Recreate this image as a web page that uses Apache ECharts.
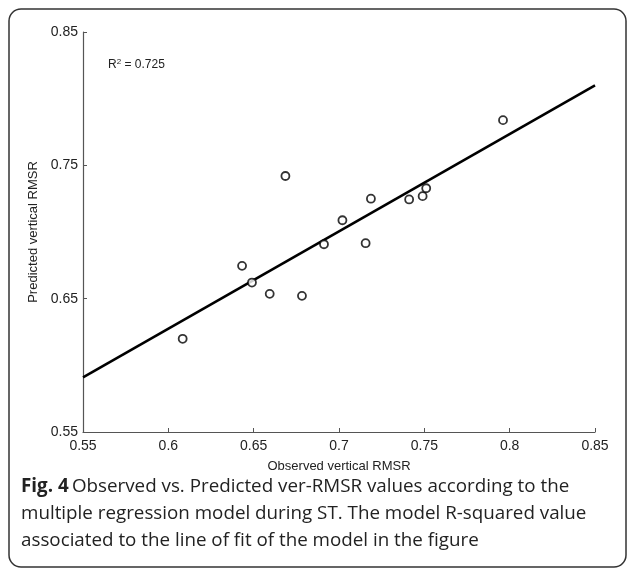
<!DOCTYPE html>
<html>
<head>
<meta charset="utf-8">
<script src="https://cdn.jsdelivr.net/npm/echarts@6/dist/echarts.min.js"></script>
<style>
  html, body { margin: 0; padding: 0; background: #fff; }
  #chart { width: 627px; height: 569px; }
</style>
</head>
<body>
<div id="chart"></div>
<script>
// observed vs predicted ver-RMSR
const observed = [0.6084, 0.6432, 0.6490, 0.6594, 0.6783, 0.6686, 0.6912,
  0.7020, 0.7156, 0.7187, 0.7411, 0.7490, 0.7511, 0.7961];
const predicted = [0.6199, 0.6746, 0.6621, 0.6536, 0.6521, 0.7420, 0.6908,
  0.7088, 0.6916, 0.7250, 0.7244, 0.7269, 0.7328, 0.7839];

// line of fit end points
const fitX = [0.55, 0.85];
const fitY = [0.591, 0.810];

const xTicks = [0.55, 0.6, 0.65, 0.7, 0.75, 0.8, 0.85];
const yTicks = [0.55, 0.65, 0.75, 0.85];

const rSquared = '0.725';
const captionLines = [
  'Observed vs. Predicted ver-RMSR values according to the',
  'multiple regression model during ST. The model R-squared value',
  'associated to the line of fit of the model in the figure'
];

const myChart = echarts.init(document.getElementById('chart'));

const axisFont = 'Liberation Sans, Arial, sans-serif';
const capFont = '"Open Sans", "Noto Sans", sans-serif';
const capSize = 18.8;

const option = {
  backgroundColor: '#fff',
  animation: false,
  grid: { left: 83, right: 32, top: 32, bottom: 137 },
  xAxis: {
    type: 'value',
    min: 0.55,
    max: 0.85,
    interval: 0.05,
    name: 'Observed vertical RMSR',
    nameLocation: 'middle',
    nameGap: 28,
    nameTextStyle: { color: '#222', fontSize: 13, fontFamily: axisFont },
    axisLine: { lineStyle: { color: '#555', width: 1.2 } },
    axisTick: { inside: true, length: 4, lineStyle: { color: '#555' } },
    axisLabel: {
      margin: 7, color: '#222', fontSize: 14, fontFamily: axisFont,
      showMinLabel: true, showMaxLabel: true,
      formatter: v => xTicks.find(t => Math.abs(t - v) < 1e-6) + ''
    },
    splitLine: { show: false }
  },
  yAxis: {
    type: 'value',
    min: 0.55,
    max: 0.85,
    interval: 0.1,
    name: 'Predicted vertical RMSR',
    nameLocation: 'middle',
    nameGap: 35,
    nameTextStyle: { color: '#222', fontSize: 13, fontFamily: axisFont },
    axisLine: { show: true, lineStyle: { color: '#555', width: 1.2 } },
    axisTick: { show: true, inside: true, length: 4, lineStyle: { color: '#555' } },
    axisLabel: {
      margin: 5, color: '#222', fontSize: 14, fontFamily: axisFont,
      formatter: v => yTicks.find(t => Math.abs(t - v) < 1e-6) + ''
    },
    splitLine: { show: false }
  },
  series: [
    {
      type: 'line',
      data: fitX.map((x, i) => [x, fitY[i]]),
      symbol: 'none',
      lineStyle: { color: '#000', width: 2.6 },
      z: 2
    },
    {
      type: 'scatter',
      data: observed.map((x, i) => [x, predicted[i]]),
      symbol: 'circle',
      symbolSize: 8,
      itemStyle: { color: '#fff', borderColor: '#000', borderWidth: 1.8 },
      z: 3
    }
  ],
  graphic: [
    {
      type: 'rect',
      shape: { x: 9, y: 9, width: 617, height: 558, r: 12 },
      style: { fill: 'none', stroke: '#333', lineWidth: 1.5 },
      silent: true
    },
    {
      type: 'text',
      left: 108,
      top: 58,
      style: {
        text: '{a|R}{s|2}{a| = ' + rSquared + '}',
        rich: {
          a: { fontSize: 12, fontFamily: axisFont, fill: '#222' },
          s: { fontSize: 8, fontFamily: axisFont, fill: '#222', verticalAlign: 'top', padding: [0, 0, 6, 0] }
        }
      }
    },
    {
      type: 'text',
      left: 21,
      top: 477,
      style: {
        text: '{b|Fig. 4} {n|' + captionLines[0] + '}',
        rich: {
          b: { fontSize: capSize, fontWeight: 'bold', fontFamily: capFont, fill: '#222' },
          n: { fontSize: capSize, fontFamily: capFont, fill: '#222' }
        }
      }
    },
    {
      type: 'text',
      left: 21,
      top: 504,
      style: { text: captionLines[1], fontSize: capSize, fontFamily: capFont, fill: '#222' }
    },
    {
      type: 'text',
      left: 21,
      top: 531,
      style: { text: captionLines[2], fontSize: capSize, fontFamily: capFont, fill: '#222' }
    }
  ]
};

myChart.setOption(option);

window.addEventListener('resize', function() {
  myChart.resize();
});
</script>
</body>
</html>
